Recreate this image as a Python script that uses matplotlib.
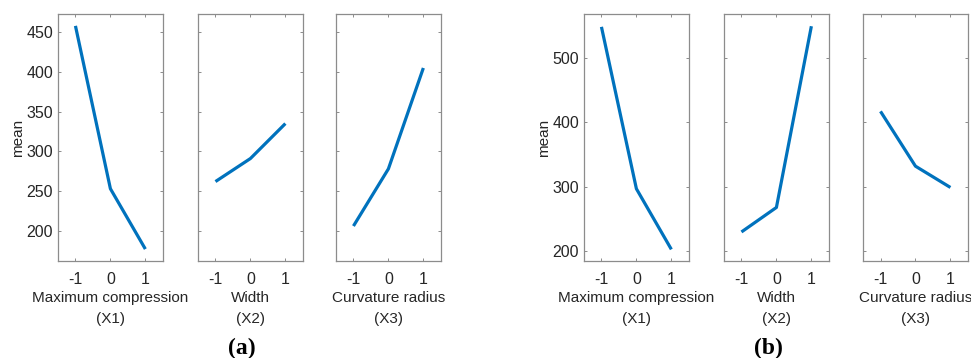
import matplotlib
matplotlib.use('Agg')
import matplotlib.pyplot as plt

plt.rcParams['font.family'] = ['Liberation Sans', 'DejaVu Sans']
plt.rcParams['axes.unicode_minus'] = False

levels = [-1, 0, 1]
factor_names = ['Maximum compression\n(X1)', 'Width\n(X2)', 'Curvature radius\n(X3)']

# main effects, panel (a)
a_x1 = [458, 253, 177]
a_x2 = [262, 291, 335]
a_x3 = [206, 278, 405]
a_yticks = [200, 250, 300, 350, 400, 450]

# main effects, panel (b)
b_x1 = [548, 297, 203]
b_x2 = [230, 268, 549]
b_x3 = [417, 332, 299]
b_yticks = [200, 300, 400, 500]

blue = '#0072BD'
txt = '#262626'
edge = '#8c8c8c'

fig = plt.figure(figsize=(9.71, 3.58), dpi=100)


def panel(lefts, series, ylim, yticks, caption, cap_x):
    axes = []
    for i, (left, ys) in enumerate(zip(lefts, series)):
        ax = fig.add_axes([left, 0.271, 0.108, 0.690])
        ax.plot(levels, ys, color=blue, lw=2.3, solid_capstyle='butt')
        ax.set_xlim(-1.5, 1.5)
        ax.set_ylim(*ylim)
        ax.set_xticks(levels)
        ax.set_yticks(yticks)
        ax.tick_params(direction='in', length=2.5, width=0.7, color=edge,
                       top=True, right=True, labelsize=11.5, labelcolor=txt)
        ax.tick_params(axis='x', pad=8)
        if i > 0:
            ax.set_yticklabels([])
        else:
            ax.set_ylabel('mean', fontsize=11, color=txt, labelpad=1)
        ax.set_xlabel(factor_names[i], fontsize=11, color=txt,
                      linespacing=1.7, labelpad=2.5)
        for s in ax.spines.values():
            s.set_color(edge)
            s.set_linewidth(0.9)
        axes.append(ax)
    fig.text(cap_x, 0.028, caption, ha='center', va='center', fontsize=17,
             family='Liberation Serif', fontweight='bold', color='black')
    return axes


panel([0.0597, 0.2039, 0.346], [a_x1, a_x2, a_x3], (162, 473), a_yticks,
      '(a)', 242 / 971)
panel([0.6014, 0.7456, 0.8888], [b_x1, b_x2, b_x3], (185, 568), b_yticks,
      '(b)', 768 / 971)

fig.savefig('out.png', dpi=100)
